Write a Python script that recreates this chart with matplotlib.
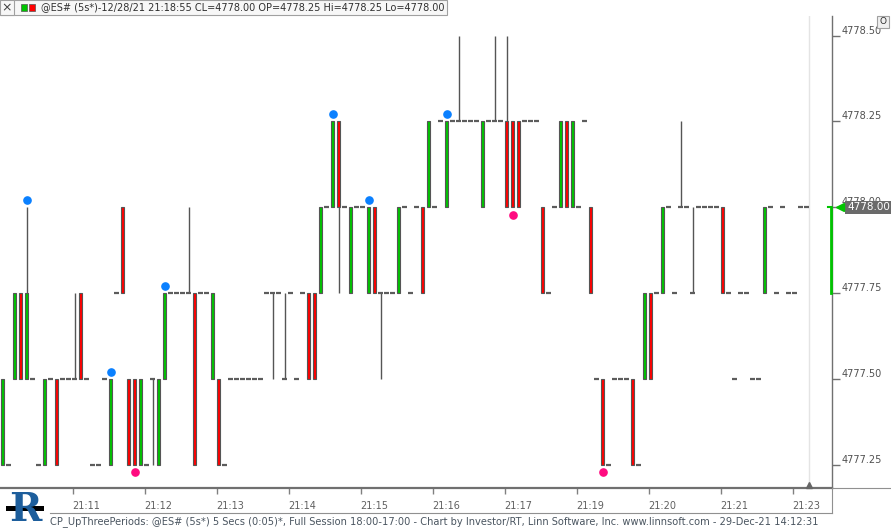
import numpy as np
import matplotlib.pyplot as plt
from matplotlib.patches import Rectangle
from matplotlib.lines import Line2D

# 5-second bars, @ES#
opens = [4777.25, 4777.25, 4777.50, 4777.75, 4777.50, 4777.50, 4777.25, 4777.25, 4777.50, 4777.50,
         4777.50, 4777.50, 4777.50, 4777.75, 4777.50, 4777.25, 4777.25, 4777.50, 4777.25, 4777.75,
         4778.00, 4777.50, 4777.50, 4777.25, 4777.25, 4777.50, 4777.25, 4777.50, 4777.75, 4777.75,
         4777.75, 4777.75, 4777.75, 4777.75, 4777.75, 4777.50, 4777.50, 4777.25, 4777.50, 4777.50,
         4777.50, 4777.50, 4777.50, 4777.50, 4777.75, 4777.75, 4777.75, 4777.50, 4777.75, 4777.50,
         4777.75, 4777.75, 4777.75, 4777.75, 4778.00, 4778.00, 4778.25, 4778.00, 4777.75, 4778.00,
         4778.00, 4777.75, 4778.00, 4777.75, 4777.75, 4777.75, 4777.75, 4778.00, 4777.75, 4778.00,
         4778.00, 4778.00, 4778.00, 4778.25, 4778.00, 4778.25, 4778.25, 4778.25, 4778.25, 4778.25,
         4778.00, 4778.25, 4778.25, 4778.25, 4778.25, 4778.25, 4778.25, 4778.25, 4778.25, 4778.25,
         4778.00, 4777.75, 4778.00, 4778.00, 4778.25, 4778.00, 4778.00, 4778.25, 4778.00, 4777.50,
         4777.50, 4777.25, 4777.50, 4777.50, 4777.50, 4777.50, 4777.25, 4777.50, 4777.75, 4777.75,
         4777.75, 4778.00, 4777.75, 4778.00, 4778.00, 4777.75, 4778.00, 4778.00, 4778.00, 4778.00,
         4778.00, 4777.75, 4777.50, 4777.75, 4777.75, 4777.50, 4777.50, 4777.75, 4778.00, 4777.75,
         4778.00, 4777.75, 4777.75, 4778.00, 4778.00]
highs = [4777.50, 4777.25, 4777.75, 4777.75, 4778.00, 4777.50, 4777.25, 4777.50, 4777.50, 4777.50,
         4777.50, 4777.50, 4777.75, 4777.75, 4777.50, 4777.25, 4777.25, 4777.50, 4777.50, 4777.75,
         4778.00, 4777.50, 4777.50, 4777.50, 4777.25, 4777.50, 4777.50, 4777.75, 4777.75, 4777.75,
         4777.75, 4778.00, 4777.75, 4777.75, 4777.75, 4777.75, 4777.50, 4777.25, 4777.50, 4777.50,
         4777.50, 4777.50, 4777.50, 4777.50, 4777.75, 4777.75, 4777.75, 4777.75, 4777.75, 4777.50,
         4777.75, 4777.75, 4777.75, 4778.00, 4778.00, 4778.25, 4778.25, 4778.00, 4778.00, 4778.00,
         4778.00, 4778.00, 4778.00, 4777.75, 4777.75, 4777.75, 4778.00, 4778.00, 4777.75, 4778.00,
         4778.00, 4778.25, 4778.00, 4778.25, 4778.25, 4778.25, 4778.50, 4778.25, 4778.25, 4778.25,
         4778.25, 4778.25, 4778.50, 4778.25, 4778.50, 4778.25, 4778.25, 4778.25, 4778.25, 4778.25,
         4778.00, 4777.75, 4778.00, 4778.25, 4778.25, 4778.25, 4778.00, 4778.25, 4778.00, 4777.50,
         4777.50, 4777.25, 4777.50, 4777.50, 4777.50, 4777.50, 4777.25, 4777.75, 4777.75, 4777.75,
         4778.00, 4778.00, 4777.75, 4778.25, 4778.00, 4778.00, 4778.00, 4778.00, 4778.00, 4778.00,
         4778.00, 4777.75, 4777.50, 4777.75, 4777.75, 4777.50, 4777.50, 4778.00, 4778.00, 4777.75,
         4778.00, 4777.75, 4777.75, 4778.00, 4778.00]
lows = [4777.25, 4777.25, 4777.50, 4777.50, 4777.50, 4777.50, 4777.25, 4777.25, 4777.50, 4777.25,
        4777.50, 4777.50, 4777.50, 4777.50, 4777.50, 4777.25, 4777.25, 4777.50, 4777.25, 4777.75,
        4777.75, 4777.25, 4777.25, 4777.25, 4777.25, 4777.25, 4777.25, 4777.50, 4777.75, 4777.75,
        4777.75, 4777.75, 4777.25, 4777.75, 4777.75, 4777.50, 4777.25, 4777.25, 4777.50, 4777.50,
        4777.50, 4777.50, 4777.50, 4777.50, 4777.75, 4777.50, 4777.75, 4777.50, 4777.75, 4777.50,
        4777.75, 4777.50, 4777.50, 4777.75, 4778.00, 4778.00, 4777.75, 4778.00, 4777.75, 4778.00,
        4778.00, 4777.75, 4777.75, 4777.50, 4777.75, 4777.75, 4777.75, 4778.00, 4777.75, 4778.00,
        4777.75, 4778.00, 4778.00, 4778.25, 4778.00, 4778.25, 4778.25, 4778.25, 4778.25, 4778.25,
        4778.00, 4778.25, 4778.25, 4778.25, 4778.00, 4778.00, 4778.00, 4778.25, 4778.25, 4778.25,
        4777.75, 4777.75, 4778.00, 4778.00, 4778.00, 4778.00, 4778.00, 4778.25, 4777.75, 4777.50,
        4777.25, 4777.25, 4777.50, 4777.50, 4777.50, 4777.25, 4777.25, 4777.50, 4777.50, 4777.75,
        4777.75, 4778.00, 4777.75, 4778.00, 4778.00, 4777.75, 4778.00, 4778.00, 4778.00, 4778.00,
        4777.75, 4777.75, 4777.50, 4777.75, 4777.75, 4777.50, 4777.50, 4777.75, 4778.00, 4777.75,
        4778.00, 4777.75, 4777.75, 4778.00, 4778.00]
closes = [4777.50, 4777.25, 4777.75, 4777.50, 4777.75, 4777.50, 4777.25, 4777.50, 4777.50, 4777.25,
          4777.50, 4777.50, 4777.50, 4777.50, 4777.50, 4777.25, 4777.25, 4777.50, 4777.50, 4777.75,
          4777.75, 4777.25, 4777.25, 4777.50, 4777.25, 4777.50, 4777.50, 4777.75, 4777.75, 4777.75,
          4777.75, 4777.75, 4777.25, 4777.75, 4777.75, 4777.75, 4777.25, 4777.25, 4777.50, 4777.50,
          4777.50, 4777.50, 4777.50, 4777.50, 4777.75, 4777.75, 4777.75, 4777.50, 4777.75, 4777.50,
          4777.75, 4777.50, 4777.50, 4778.00, 4778.00, 4778.25, 4778.00, 4778.00, 4778.00, 4778.00,
          4778.00, 4778.00, 4777.75, 4777.75, 4777.75, 4777.75, 4778.00, 4778.00, 4777.75, 4778.00,
          4777.75, 4778.25, 4778.00, 4778.25, 4778.25, 4778.25, 4778.25, 4778.25, 4778.25, 4778.25,
          4778.25, 4778.25, 4778.25, 4778.25, 4778.00, 4778.00, 4778.00, 4778.25, 4778.25, 4778.25,
          4777.75, 4777.75, 4778.00, 4778.25, 4778.00, 4778.25, 4778.00, 4778.25, 4777.75, 4777.50,
          4777.25, 4777.25, 4777.50, 4777.50, 4777.50, 4777.25, 4777.25, 4777.75, 4777.50, 4777.75,
          4778.00, 4778.00, 4777.75, 4778.00, 4778.00, 4777.75, 4778.00, 4778.00, 4778.00, 4778.00,
          4777.75, 4777.75, 4777.50, 4777.75, 4777.75, 4777.50, 4777.50, 4778.00, 4778.00, 4777.75,
          4778.00, 4777.75, 4777.75, 4778.00, 4778.00]

# CP_UpThreePeriods signals (bar numbers)
up_signals = [4, 18, 27, 55, 61, 74]
down_signals = [22, 85, 100]

price_ticks = [4777.25, 4777.50, 4777.75, 4778.00, 4778.25, 4778.50]
time_labels = ['21:11', '21:12', '21:13', '21:14', '21:15', '21:16',
               '21:17', '21:19', '21:20', '21:21', '21:23']
time_tick_bars = [11.67, 23.67, 35.67, 47.67, 59.67, 71.67, 83.67, 95.67, 107.67, 119.67, 131.67]
last_price = 4778.00
last_range = (4777.75, 4778.00)

W, H = 891, 530
def fx(px):
    return px / W
def fy(py):
    return 1 - py / H

fig = plt.figure(figsize=(W / 100, H / 100), dpi=100)
fig.patch.set_facecolor('white')
ax = fig.add_axes([0, fy(488), fx(832), (488 - 16) / H])
ax.set_facecolor('white')

o = np.array(opens); h = np.array(highs); l = np.array(lows); c = np.array(closes)
x = np.arange(len(o))
edge = '#555555'

# wicks
rng = h > l
ax.vlines(x[rng], l[rng], h[rng], color=edge, lw=1, zorder=2)
# bodies
up = c > o
dn = c < o
ax.bar(x[up], (c - o)[up], bottom=o[up], width=0.65, color='#00c400', edgecolor=edge, linewidth=0.8, zorder=3)
ax.bar(x[dn], (o - c)[dn], bottom=c[dn], width=0.65, color='#ff0000', edgecolor=edge, linewidth=0.8, zorder=3)
# flat open/close dashes
fl = c == o
ax.hlines(c[fl], x[fl] - 0.37, x[fl] + 0.37, color='#5c5c5c', lw=1.6, zorder=3)

# signal dots
ax.plot(x[up_signals], h[up_signals] + 0.021, 'o', color='#0a80ff', ms=5.2, mec='#0a80ff', zorder=4)
ax.plot(x[down_signals], l[down_signals] - 0.021, 'o', color='#ff0a80', ms=5.2, mec='#ff0a80', zorder=4)

ax.set_xlim(-0.4167, 138.25)
ax.set_ylim(4777.183, 4778.557)

# current bar line
ax.axvline(134.42, color='#e4e4e4', lw=1, zorder=1)
ax.plot([134.42], [0.006], marker='^', color='#666666', ms=5, transform=ax.get_xaxis_transform(), clip_on=False, zorder=5)

for s in ['top', 'left']:
    ax.spines[s].set_visible(False)
ax.spines['right'].set_color('#707070')
ax.spines['right'].set_linewidth(1)
ax.spines['bottom'].set_color('#707070')
ax.spines['bottom'].set_linewidth(1.6)

ax.yaxis.tick_right()
ax.set_yticks(price_ticks)
ax.set_yticklabels([])
ax.tick_params(axis='y', length=6, width=1, color='#707070', direction='out')
for p in price_ticks:
    ax.annotate(f'{p:.2f}', xy=(1, p), xycoords=('axes fraction', 'data'), xytext=(10, 5),
                textcoords='offset pixels', va='center', ha='left', fontsize=7, color='#505050')

# last price label
ax.annotate(f'{last_price:.2f}', xy=(1, last_price), xycoords=('axes fraction', 'data'),
            xytext=(15, 0), textcoords='offset pixels', va='center', ha='left', fontsize=7.5,
            color='white', bbox=dict(boxstyle='square,pad=0.15', fc='#6a6a6a', ec='none'), zorder=6)
ax.plot([1.0 + 8 / 832], [last_price], marker='<', color='#00c400', ms=6,
        transform=ax.get_yaxis_transform(), clip_on=False, zorder=6)
ax.plot([1 - 1 / 832, 1 - 1 / 832], list(last_range), color='#00c400', lw=2,
        transform=ax.get_yaxis_transform(), clip_on=False, zorder=6)
ax.plot([1 - 4 / 832, 1 - 1 / 832], [last_range[1], last_range[1]], color='#00c400', lw=1.5,
        transform=ax.get_yaxis_transform(), clip_on=False, zorder=6)

ax.set_xticks(time_tick_bars)
ax.set_xticklabels(time_labels)
ax.tick_params(axis='x', length=4.5, width=1, color='#808080', labelsize=7, labelcolor='#606060', pad=5)
for lbl in ax.get_xticklabels():
    lbl.set_horizontalalignment('left')

# time axis frame
fig.add_artist(Line2D([fx(832), fx(891)], [fy(488), fy(488)], color='#909090', lw=0.8))
fig.add_artist(Line2D([fx(832), fx(832)], [fy(488), fy(513)], color='#909090', lw=0.8))
fig.add_artist(Line2D([fx(50), fx(832)], [fy(513), fy(513)], color='#909090', lw=0.8))

# title bar
fig.add_artist(Rectangle((0, fy(15)), fx(447), 15 / H, fc='#f7f7f7', ec='#a0a0a0', lw=0.8))
fig.add_artist(Rectangle((0, fy(15)), fx(14), 15 / H, fc='#f7f7f7', ec='#a0a0a0', lw=0.8))
fig.text(fx(7), fy(7.5), '×', fontsize=9, ha='center', va='center', color='#404040')
fig.add_artist(Rectangle((fx(21), fy(11)), fx(6), 7 / H, fc='#00c400', ec='#555555', lw=0.5))
fig.add_artist(Rectangle((fx(29), fy(11)), fx(6), 7 / H, fc='#ff0000', ec='#555555', lw=0.5))
fig.text(fx(41), fy(7.5), '@ES# (5s*)-12/28/21 21:18:55 CL=4778.00 OP=4778.25 Hi=4778.25 Lo=4778.00',
         fontsize=7.0, ha='left', va='center', color='#303030')

# small button top right
fig.add_artist(Rectangle((fx(877), fy(28)), fx(12), 12 / H, fc='#f0f0f0', ec='#a0a0a0', lw=0.8))
fig.text(fx(883), fy(22), 'O', fontsize=6.5, ha='center', va='center', color='#303030')

# logo
fig.text(fx(25), fy(510), 'R', fontsize=28, fontweight='bold', family='DejaVu Serif',
         ha='center', va='center', color='#1d5e9c')
fig.add_artist(Rectangle((fx(6), fy(511)), fx(38), 5 / H, fc='black', ec='none'))

# footer
fig.text(fx(50), fy(522), 'CP_UpThreePeriods: @ES# (5s*) 5 Secs (0:05)*, Full Session 18:00-17:00 - '
         'Chart by Investor/RT, Linn Software, Inc. www.linnsoft.com - 29-Dec-21 14:12:31',
         fontsize=7.15, ha='left', va='center', color='#4a5560')

fig.savefig('out.png', dpi=100)
